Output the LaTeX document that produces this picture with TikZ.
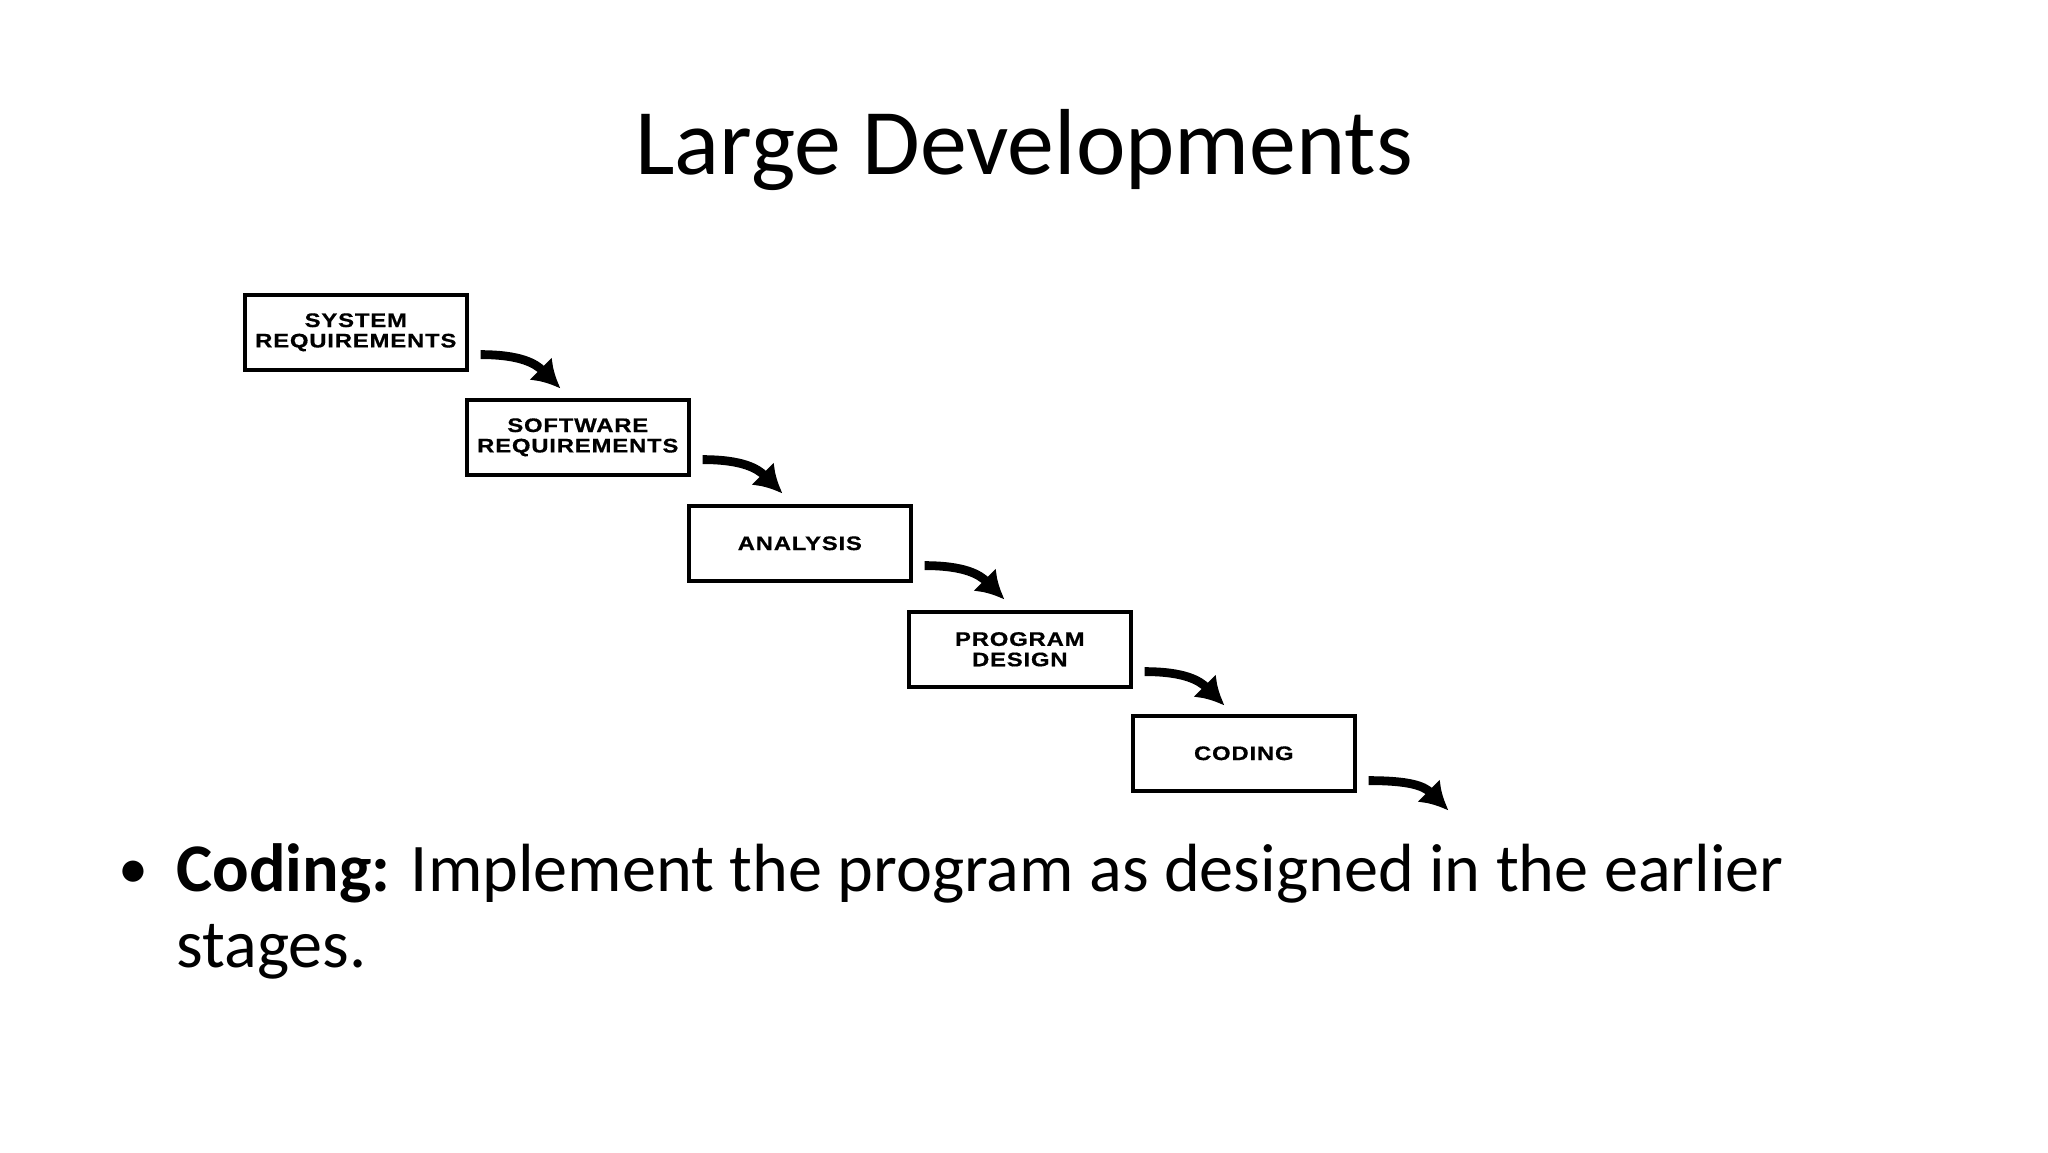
\documentclass[tikz,border=0pt]{standalone}
\usepackage{fontspec}
\setmainfont{Carlito}
\newfontfamily\boxfont[FakeStretch=1.22,LetterSpace=4,BoldFeatures={FakeBold=0.6}]{Liberation Sans}
\usetikzlibrary{arrows.meta,calc}
\tikzset{
  stage/.style={draw=black,line width=1.8pt,minimum width=111pt,minimum height=37.5pt,
    inner sep=0pt,align=center,font=\boxfont\bfseries\fontsize{9.8}{10.2}\selectfont},
  flow/.style={line width=4.4pt,-{Latex[length=14pt,width=16pt]}}
}
\begin{document}
\begin{tikzpicture}[x=0.5pt,y=-0.5pt]
\useasboundingbox (0,0) rectangle (2048,1152);
\node[anchor=base,font=\fontsize{46.9}{50}\selectfont] (title) at (1024,174) {Large Developments};
\node[stage,anchor=north west] (b1) at (243,293) {SYSTEM\\REQUIREMENTS};
\node[stage,anchor=north west] (b2) at (465,398) {SOFTWARE\\REQUIREMENTS};
\node[stage,anchor=north west] (b3) at (687,504) {ANALYSIS};
\node[stage,anchor=north west] (b4) at (907,610) {PROGRAM\\DESIGN};
\node[stage,anchor=north west] (b5) at (1131,714) {CODING};
\coordinate (e5) at ($(b5.south east)+(92,18)$);
\foreach \a/\b in {b1/b2,b2/b3,b3/b4,b4/b5}{
  \draw[flow] ($(\a.south east)+(12,-17)$) .. controls +(40,0) and +(-25,-25) .. ($(\a.south east)+(92,17)$);
}
\draw[flow] ($(b5.south east)+(12,-12)$) .. controls +(40,0) and +(-25,-25) .. (e5);
\node[anchor=base west,inner sep=0pt,font=\fontsize{30}{38}\selectfont] (bullet) at (118,888) {\textbullet};
\node[anchor=base west,inner sep=0pt,align=left,font=\fontsize{34.1}{38}\selectfont] (body) at (176,967)
  {\textbf{Coding:} Implement the program as designed in the earlier\\stages.};
\end{tikzpicture}
\end{document}
